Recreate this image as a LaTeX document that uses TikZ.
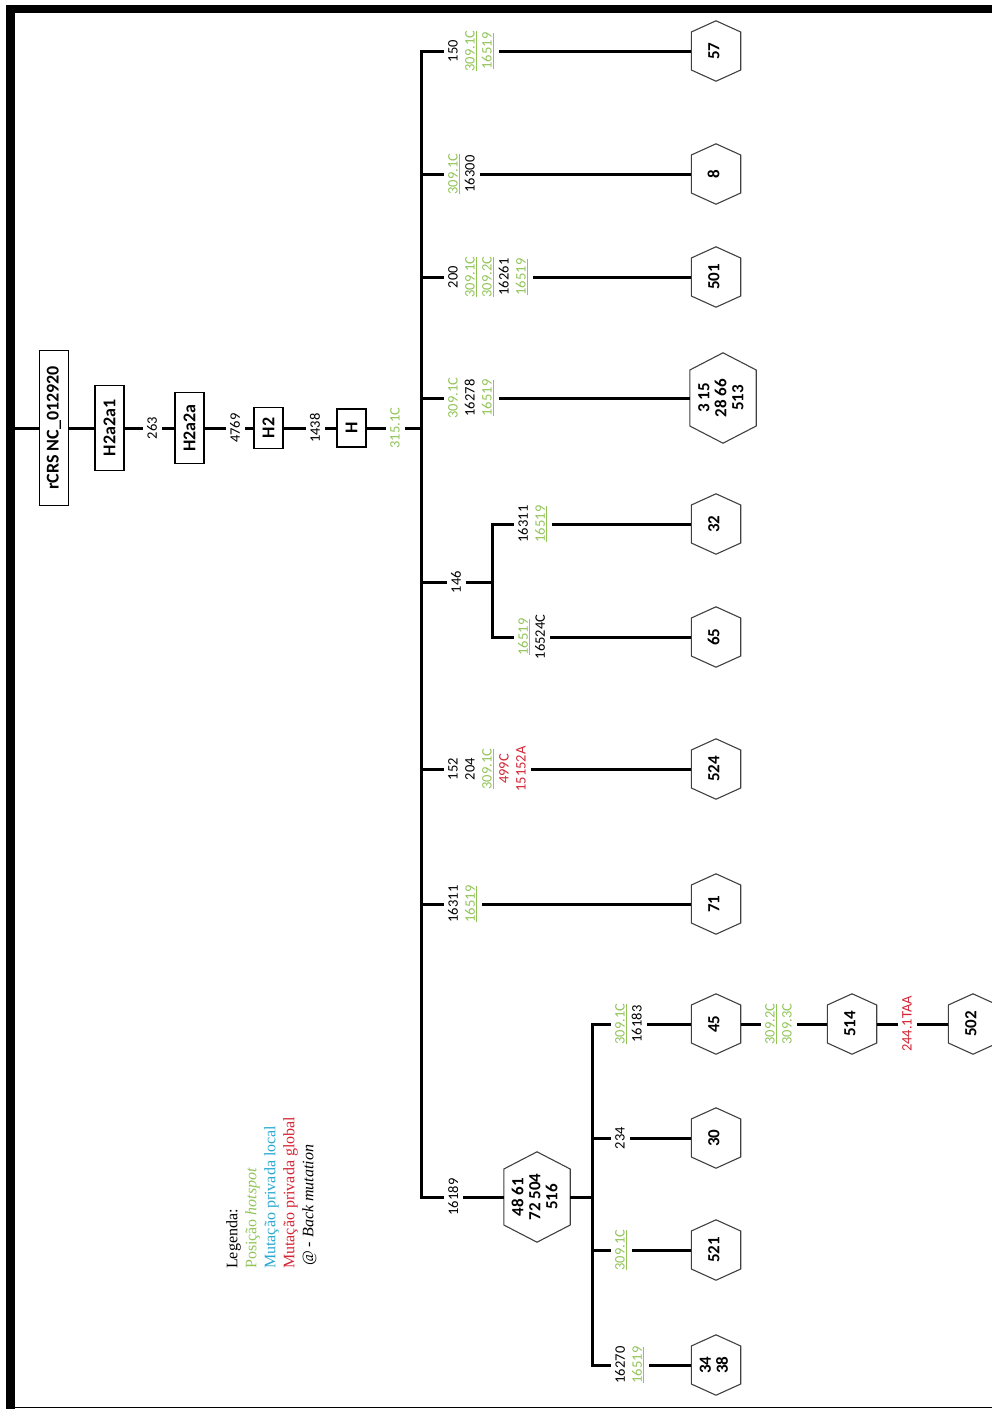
\documentclass[tikz,border=0pt]{standalone}
\usepackage{fontspec}
\setmainfont{Liberation Serif}
\newfontfamily\labfont{Carlito}
\usepackage{graphicx}
\usetikzlibrary{calc}
\definecolor{hsgreen}{RGB}{146,196,90}
\definecolor{rdc}{RGB}{212,36,52}
\definecolor{lblue}{RGB}{40,168,208}
\newcommand\hs[1]{\textcolor{hsgreen}{\underline{#1}}}
\newcommand\gr[1]{\textcolor{hsgreen}{#1}}
\newcommand\rd[1]{\textcolor{rdc}{#1}}
\newcommand\hx[1]{\rotatebox{90}{\begin{tabular}{@{}c@{}}#1\end{tabular}}}
\newcommand\hexo[2]{\draw[hexline] ([yshift=#2]#1.east) -- (#1.north) -- ([yshift=#2]#1.west) -- ([yshift=-#2]#1.west) -- (#1.south) -- ([yshift=-#2]#1.east) -- cycle;}
\begin{document}
\begin{tikzpicture}[x=1pt,y=-1pt,
  conn/.style={line width=3pt},
  trunk/.style={line width=3pt, line cap=rect},
  lbl/.style={font=\labfont\fontsize{14.5}{17}\selectfont, rotate=90, align=center, inner sep=2pt},
  lbln/.style={lbl, anchor=north},
  boxn/.style={draw, line width=1.4pt, rotate=90, font=\labfont\bfseries\fontsize{18}{21}\selectfont, minimum height=29pt, inner sep=0pt},
  hexn/.style={font=\labfont\bfseries\fontsize{17}{17}\selectfont, minimum width=49pt, minimum height=60pt, inner sep=0pt},
  bighex/.style={hexn, minimum width=66pt, minimum height=90pt},
  hexline/.style={line width=1.1pt, draw=black!75},
  legend/.style={font=\fontsize{16}{19}\selectfont, rotate=90, align=left, inner sep=0pt},
  sh/.style={shorten >=2pt},
  sl/.style={shorten <=3pt}
]
\useasboundingbox (0,0) rectangle (992,1409);
% frame
\fill (6,5) rectangle (14.5,1409);
\fill (6,5) rectangle (992,13);
\draw[line width=1.2pt] (14,1407.5) -- (992,1407.5);

% main row
\coordinate (start) at (14,428);
\node[boxn, minimum width=155pt] (rcrs) at (54,428) {rCRS NC\_012920};
\node[boxn, minimum width=85pt] (h2a2a1) at (109.5,428) {H2a2a1};
\node[lbl] (l263) at (152,428) {263};
\node[boxn, minimum width=71pt] (h2a2a) at (189.5,428) {H2a2a};
\node[lbl] (l4769) at (235,428) {4769};
\node[boxn, minimum width=41pt] (h2) at (268.5,428) {H2};
\node[lbl] (l1438) at (315,428) {1438};
\node[boxn, minimum width=38pt] (hh) at (351.5,428) {H};
\node[lbl] (l315) at (395,428) {\gr{315.1C}};
\coordinate (j0) at (421,428);

\draw[conn] (start) -- (rcrs);
\draw[conn] (rcrs) -- (h2a2a1);
\draw[conn, sh] (h2a2a1) -- (l263);
\draw[conn, sl] (l263) -- (h2a2a);
\draw[conn, sh] (h2a2a) -- (l4769);
\draw[conn, sl] (l4769) -- (h2);
\draw[conn, sh] (h2) -- (l1438);
\draw[conn, sl] (l1438) -- (hh);
\draw[conn, sh] (hh) -- (l315);
\draw[conn, sl] (l315) -- (j0);

% trunk
\coordinate (b1) at (421,51);
\coordinate (b2) at (421,174);
\coordinate (b3) at (421,277);
\coordinate (b4) at (421,398);
\coordinate (b5) at (421,582);
\coordinate (b6) at (421,769);
\coordinate (b7) at (421,904);
\coordinate (b8) at (421,1197);
\draw[trunk] (b1) -- (b8);

% branch labels
\node[lbln] (l1) at (446,51) {150\\\hs{309.1C}\\\hs{16519}};
\node[lbln] (l2) at (446,174) {\hs{309.1C}\\16300};
\node[lbln] (l3) at (446,277) {200\\\hs{309.1C}\\\hs{309.2C}\\16261\\\hs{16519}};
\node[lbln] (l4) at (446,398) {\gr{309.1C}\\16278\\\hs{16519}};
\node[lbln] (l5) at (449,582) {146};
\node[lbln] (l6) at (446,769) {152\\204\\\hs{309.1C}\\\rd{499C}\\\rd{15152A}};
\node[lbln] (l7) at (446,904) {16311\\\hs{16519}};
\node[lbln] (l8) at (446,1197) {16189};

% sub-trunk 146
\coordinate (s0) at (492,582);
\coordinate (s1) at (492,524);
\coordinate (s2) at (492,637);
\draw[trunk] (s1) -- (s2);
\node[lbln] (l5a) at (516,524) {16311\\\hs{16519}};
\node[lbln] (l5b) at (516,637) {\hs{16519}\\16524C};

% hexes
\node[hexn] (x57) at (716,51) {\hx{57}};
\node[hexn] (x8) at (716,174) {\hx{8}};
\node[hexn] (x501) at (716,277) {\hx{501}};
\node[bighex] (x513) at (723,398) {\hx{3 15\\28 66\\513}};
\node[hexn] (x32) at (716,524) {\hx{32}};
\node[hexn] (x65) at (716,637) {\hx{65}};
\node[hexn] (x524) at (716,769) {\hx{524}};
\node[hexn] (x71) at (716,904) {\hx{71}};
\node[bighex] (x516) at (537,1197) {\hx{48 61\\72 504\\516}};
\node[hexn] (x45) at (716,1024) {\hx{45}};
\node[hexn] (x30) at (716,1138) {\hx{30}};
\node[hexn] (x521) at (716,1250) {\hx{521}};
\node[hexn] (x3438) at (716,1365) {\hx{34\\38}};
\node[hexn] (x514) at (852,1024) {\hx{514}};
\node[hexn] (x502) at (973,1024) {\hx{502}};
\hexo{x57}{19}\hexo{x8}{19}\hexo{x501}{19}\hexo{x513}{28}\hexo{x32}{19}
\hexo{x65}{19}\hexo{x524}{19}\hexo{x71}{19}\hexo{x516}{28}\hexo{x45}{19}
\hexo{x30}{19}\hexo{x521}{19}\hexo{x3438}{19}\hexo{x514}{19}\hexo{x502}{19}

% branch connectors
\draw[conn, sh] (b1) -- (l1); \draw[conn, sl] (l1) -- (x57);
\draw[conn, sh] (b2) -- (l2); \draw[conn, sl] (l2) -- (x8);
\draw[conn, sh] (b3) -- (l3); \draw[conn, sl] (l3) -- (x501);
\draw[conn, sh] (b4) -- (l4); \draw[conn, sl] (l4) -- (x513);
\draw[conn, sh] (b5) -- (l5); \draw[conn, sl] (l5) -- (s0);
\draw[conn, sh] (s1) -- (l5a); \draw[conn, sl] (l5a) -- (x32);
\draw[conn, sh] (s2) -- (l5b); \draw[conn, sl] (l5b) -- (x65);
\draw[conn, sh] (b6) -- (l6); \draw[conn, sl] (l6) -- (x524);
\draw[conn, sh] (b7) -- (l7); \draw[conn, sl] (l7) -- (x71);
\draw[conn, sh] (b8) -- (l8); \draw[conn, sl] (l8) -- (x516);

% sub-trunk of 516
\coordinate (u0) at (592,1197);
\coordinate (u1) at (592,1024);
\coordinate (u2) at (592,1138);
\coordinate (u3) at (592,1250);
\coordinate (u4) at (592,1365);
\draw[trunk] (u1) -- (u4);
\draw[conn] (x516) -- (u0);
\node[lbln] (m1) at (613,1024) {\hs{309.1C}\\16183};
\node[lbln] (m2) at (613,1138) {234};
\node[lbln] (m3) at (613,1250) {\hs{309.1C}};
\node[lbln] (m4) at (613,1365) {16270\\\hs{16519}};
\draw[conn, sh] (u1) -- (m1); \draw[conn, sl] (m1) -- (x45);
\draw[conn, sh] (u2) -- (m2); \draw[conn, sl] (m2) -- (x30);
\draw[conn, sh] (u3) -- (m3); \draw[conn, sl] (m3) -- (x521);
\draw[conn, sh] (u4) -- (m4); \draw[conn, sl] (m4) -- (x3438);

% chain
\node[lbln] (c1) at (763,1024) {\hs{309.2C}\\\gr{309.3C}};
\node[lbln] (c2) at (900,1024) {\rd{244.1TAA}};
\draw[conn, sh] (x45) -- (c1); \draw[conn, sl] (c1) -- (x514);
\draw[conn, sh] (x514) -- (c2); \draw[conn, sl] (c2) -- (x502);

% legend
\node[legend, anchor=north west] (leg) at (226,1269) {Legenda:\\\textcolor{hsgreen}{Posição \textit{hotspot}}\\\textcolor{lblue}{Mutação privada local}\\\textcolor{rdc}{Mutação privada global}\\\hspace{3pt}@ - \textit{Back mutation}};
\end{tikzpicture}
\end{document}
